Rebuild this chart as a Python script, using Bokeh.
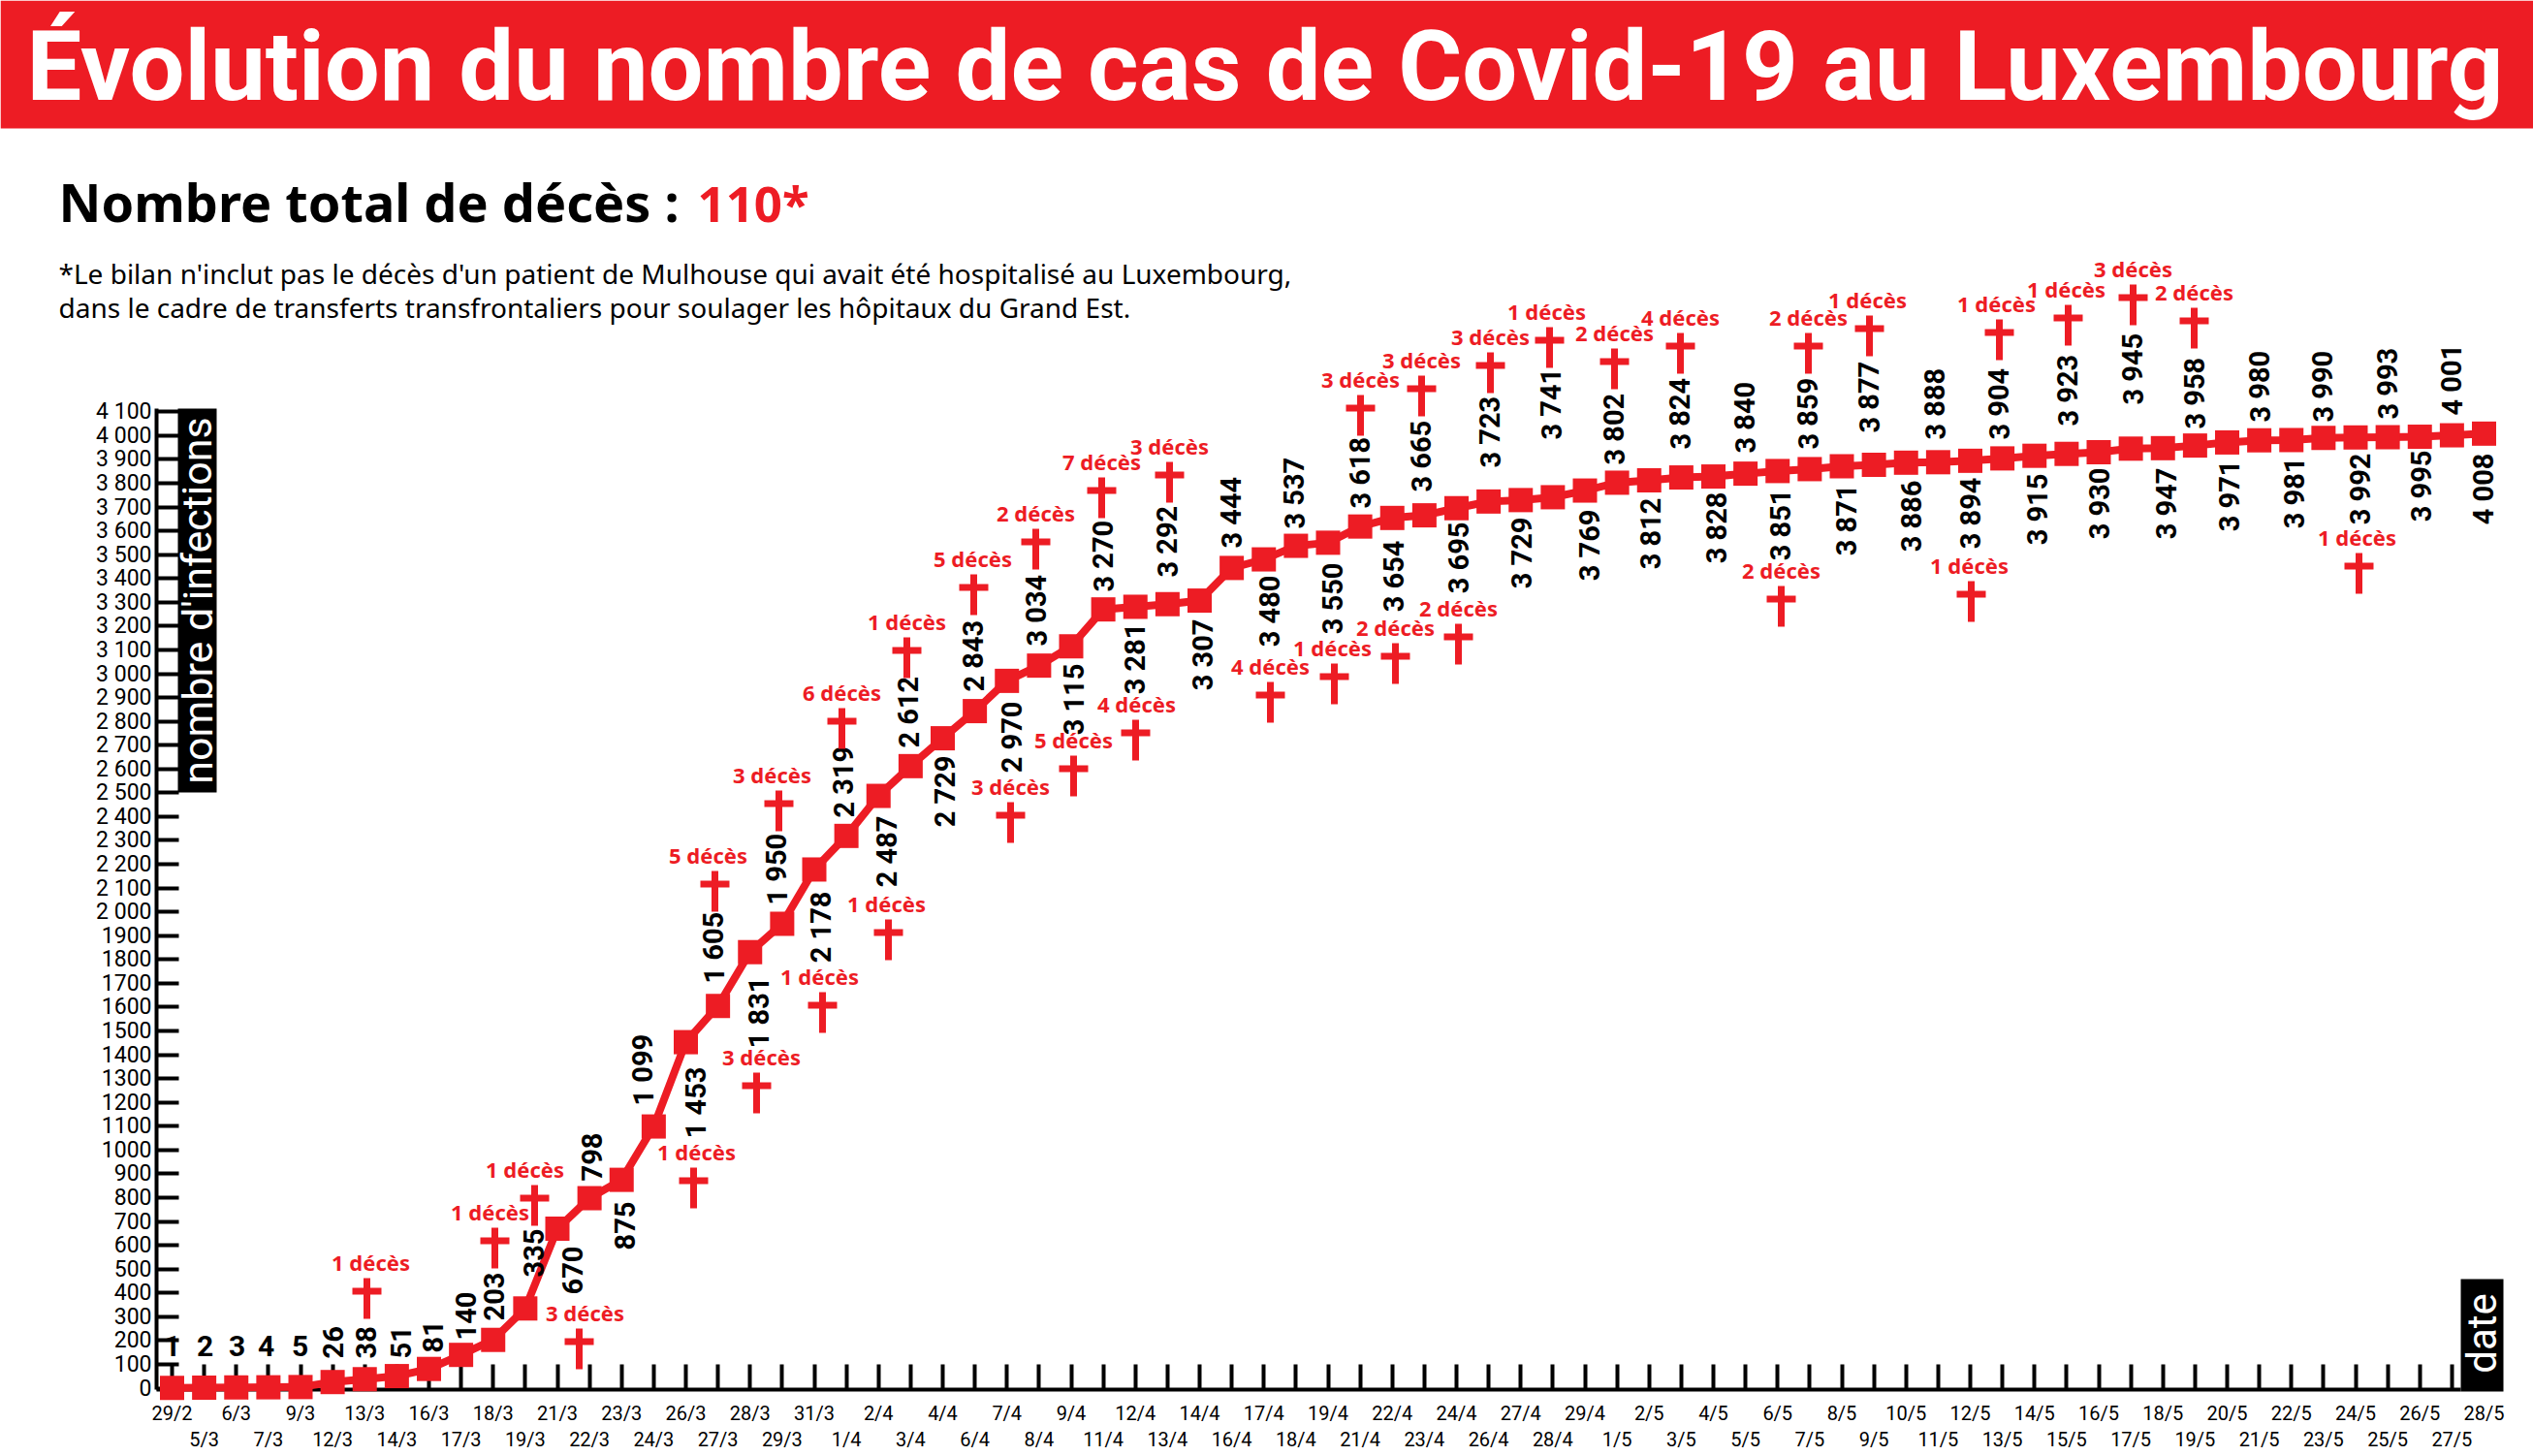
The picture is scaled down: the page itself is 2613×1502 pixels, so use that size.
from bokeh.plotting import figure
from bokeh.models import Range1d, FixedTicker, LinearAxis, ColumnDataSource
from bokeh.core.properties import value
from bokeh.embed import file_html
from bokeh.resources import INLINE

dates = ["29/2","5/3","6/3","7/3","9/3","12/3","13/3","14/3","16/3","17/3","18/3","19/3","21/3","22/3","23/3","24/3","26/3","27/3","28/3","29/3","31/3","1/4","2/4","3/4","4/4","6/4","7/4","8/4","9/4","11/4","12/4","13/4","14/4","16/4","17/4","18/4","19/4","21/4","22/4","23/4","24/4","26/4","27/4","28/4","29/4","1/5","2/5","3/5","4/5","5/5","6/5","7/5","8/5","9/5","10/5","11/5","12/5","13/5","14/5","15/5","16/5","17/5","18/5","19/5","20/5","21/5","22/5","23/5","24/5","25/5","26/5","27/5","28/5"]
cases = [1,2,3,4,5,26,38,51,81,140,203,335,670,798,875,1099,1453,1605,1831,1950,2178,2319,2487,2612,2729,2843,2970,3034,3115,3270,3281,3292,3307,3444,3480,3537,3550,3618,3654,3665,3695,3723,3729,3741,3769,3802,3812,3824,3828,3840,3851,3859,3871,3877,3886,3888,3894,3904,3915,3923,3930,3945,3947,3958,3971,3980,3981,3990,3992,3993,3995,4001,4008]
y_ticks = list(range(0, 4101, 100))

# deaths: count, and where each little cross sits on the page (x, top y)
death_counts = [1,1,1,3,1,3,5,1,3,1,6,1,3,5,5,2,4,7,3,4,1,2,3,2,3,3,1,2,4,2,2,1,1,1,1,3,2,1]
cross_px_x = [378,510,551,597,715,780,737,848,803,916,868,935,1042,1004,1107,1068,1171,1136,1206,1310,1376,1439,1403,1504,1466,1537,1598,1665,1733,1837,1865,1928,2033,2062,2133,2200,2263,2433]
cross_px_y = [1318,1266,1222,1370,1204,1106,898,1023,815,948,730,657,827,592,779,545,742,492,476,703,684,663,407,643,387,363,337,359,343,604,343,325,599,329,314,293,317,570]
label_dx = [4,-5,-10,6,3,5,-7,-3,-7,-2,0,0,0,-1,0,0,1,0,0,0,-2,0,0,0,0,0,-3,0,0,0,0,-2,-2,-3,-2,0,0,-2]

# rotated value labels: centre x on the page, and the y of their edge nearest the line
val_px_x = [177,211,244,274,309,343,377,413,446,480,509,550,590,610,644,663,717,736,782,801,846,870,914,937,974,1004,1043,1069,1107,1138,1170,1204,1240,1270,1309,1335,1374,1403,1437,1466,1504,1537,1569,1600,1639,1665,1702,1733,1770,1800,1836,1865,1904,1928,1971,1996,2032,2062,2101,2133,2165,2200,2234,2264,2299,2331,2366,2396,2434,2463,2497,2529,2561]
val_px_y = [1403,1403,1403,1403,1403,1401,1401,1401,1395,1382,1362,1317,1285,1218,1239,1140,1100,1014,1007,933,919,843,841,771,779,713,723,666,684,610,642,595,638,565,593,545,580,524,557,507,538,482,533,453,525,479,513,463,507,467,504,463,499,446,495,453,492,453,488,439,482,417,482,442,474,435,471,435,467,432,464,428,467]

RED = "#ED1C24"
W, H = 2613, 1502
X0, DX, Y0, K = 177.0, 33.125, 1431.6, 0.2457
def xd(px): return (px - X0) / DX
def yd(py): return (Y0 - py) / K
def fmt(v):
    s = str(v)
    return s[:-3] + " " + s[-3:] if len(s) > 3 else s

p = figure(width=W, height=H, output_backend="svg", toolbar_location=None,
           x_range=Range1d(xd(0), xd(W)), y_range=Range1d(yd(H), yd(0)),
           min_border=0, outline_line_color=None,
           styles={"position": "absolute", "left": "0px", "top": "0px"})
p.grid.visible = False

# x axis: two staggered rows of dates
even = {i: (d if i % 2 == 0 else "") for i, d in enumerate(dates)}
ax = p.xaxis[0]
ax.ticker = FixedTicker(ticks=list(range(len(dates))))
ax.major_label_overrides = even
ax.fixed_location = yd(1433)
ax.bounds = (xd(161), xd(2538))
ax.axis_line_width = 4
ax.major_tick_line_width = 4
ax.major_tick_in = 26
ax.major_tick_out = 0
ax.minor_tick_line_color = None
ax.major_label_standoff = 12
ax.major_label_text_font = "Roboto"
ax.major_label_text_font_size = "20px"
ax.major_label_text_color = "black"
ax.level = "underlay"
ax2 = LinearAxis(ticker=FixedTicker(ticks=list(range(1, len(dates), 2))),
                 major_label_overrides={i: dates[i] for i in range(1, len(dates), 2)},
                 fixed_location=yd(1433), axis_line_color=None, major_tick_line_color=None,
                 minor_tick_line_color=None, major_tick_in=0, major_tick_out=0,
                 major_label_standoff=39, major_label_text_font="Roboto",
                 major_label_text_font_size="20px", major_label_text_color="black", level="underlay")
p.add_layout(ax2, "below")

ay = p.yaxis[0]
ay.ticker = FixedTicker(ticks=y_ticks)
ay.major_label_overrides = {v: (fmt(v) if v >= 2000 else str(v)) for v in y_ticks}
ay.fixed_location = xd(161)
ay.bounds = (yd(1433), yd(421))
ay.axis_line_width = 4
ay.major_tick_line_width = 4
ay.major_tick_in = 23
ay.major_tick_out = 0
ay.minor_tick_line_color = None
ay.major_label_standoff = 5
ay.major_label_text_font = "Roboto"
ay.major_label_text_font_size = "23px"
ay.major_label_text_color = "black"
ay.level = "underlay"

# title band, axis captions
p.quad(left=[xd(0)], right=[xd(W)], top=[yd(0)], bottom=[yd(132)], fill_color=RED, line_color=None)
p.text(x=[xd(27)], y=[yd(102 + 25)], text=["Évolution du nombre de cas de Covid-19 au Luxembourg"],
       text_color="white", text_font=value("Roboto"), text_font_style="bold", text_font_size="101px",
       text_baseline="bottom")
p.text(x=[xd(60)], y=[yd(228 + 16)], text=["Nombre total de décès :"], text_color="black",
       text_font=value("Noto Sans"), text_font_style="bold", text_font_size="54px", text_baseline="bottom")
p.text(x=[xd(719)], y=[yd(228 + 15)], text=["110*"], text_color=RED,
       text_font=value("Noto Sans"), text_font_style="bold", text_font_size="51px", text_baseline="bottom")
p.text(x=[xd(60), xd(60)], y=[yd(292 + 8), yd(327 + 8)],
       text=["*Le bilan n'inclut pas le décès d'un patient de Mulhouse qui avait été hospitalisé au Luxembourg,",
             "dans le cadre de transferts transfrontaliers pour soulager les hôpitaux du Grand Est."],
       text_color="black", text_font=value("Noto Sans"), text_font_size="28px", text_baseline="bottom")

p.quad(left=[xd(183)], right=[xd(223)], top=[yd(421)], bottom=[yd(817)], fill_color="black", line_color=None)
p.text(x=[xd(203)], y=[yd(619)], text=["nombre d'infections"], angle=1.5708, text_color="white",
       text_font=value("Roboto"), text_font_size="43px", text_align="center", text_baseline="middle")
p.quad(left=[xd(2538)], right=[xd(2582)], top=[yd(1319)], bottom=[yd(1435)], fill_color="black", line_color=None)
p.text(x=[xd(2560)], y=[yd(1375)], text=["date"], angle=1.5708, text_color="white",
       text_font=value("Roboto"), text_font_size="42px", text_align="center", text_baseline="middle")

# the series
xs = list(range(len(cases)))
p.line(xs, cases, line_color=RED, line_width=8, line_join="miter")
p.scatter(xs, cases, marker="square", size=25, fill_color=RED, line_color=None)

# value labels
up = [i for i in xs if i < 12 or i % 2 == 1]
down = [i for i in xs if i not in up]
upright = [i for i in up if i < 5]
rot_up = [i for i in up if i >= 5]
p.text(x=[xd(val_px_x[i]) for i in upright], y=[yd(val_px_y[i] - 5) for i in upright],
       text=[str(cases[i]) for i in upright], text_color="black", text_font=value("Roboto"), text_font_style="bold",
       text_font_size="30px", text_align="center", text_baseline="bottom")
p.text(x=[xd(val_px_x[i]) for i in rot_up], y=[yd(val_px_y[i]) for i in rot_up],
       text=[fmt(cases[i]) for i in rot_up], angle=1.5708, text_color="black", text_font=value("Roboto"),
       text_font_style="bold", text_font_size="29px", text_align="left", text_baseline="middle")
p.text(x=[xd(val_px_x[i]) for i in down], y=[yd(val_px_y[i]) for i in down],
       text=[fmt(cases[i]) for i in down], angle=1.5708, text_color="black", text_font=value("Roboto"),
       text_font_style="bold", text_font_size="29px", text_align="right", text_baseline="middle")

# crosses and their captions
src = ColumnDataSource(dict(
    x=[xd(a) for a in cross_px_x],
    ybar=[yd(b + 21) for b in cross_px_y],
    yarm=[yd(b + 13.5) for b in cross_px_y],
    ylab=[yd(b - 8 + 6) for b in cross_px_y],
    xlab=[xd(a + d) for a, d in zip(cross_px_x, label_dx)],
    lab=[f"{c} décès" for c in death_counts],
))
p.rect(x="x", y="ybar", width=7, height=42, width_units="screen", height_units="screen",
       fill_color=RED, line_color=None, source=src)
p.rect(x="x", y="yarm", width=30, height=7, width_units="screen", height_units="screen",
       fill_color=RED, line_color=None, source=src)
p.text(x="xlab", y="ylab", text="lab", text_color=RED, text_font=value("Noto Sans"), text_font_style="bold",
       text_font_size="22px", text_align="center", text_baseline="bottom", source=src)

open("out.html", "w").write(file_html(p, INLINE))
